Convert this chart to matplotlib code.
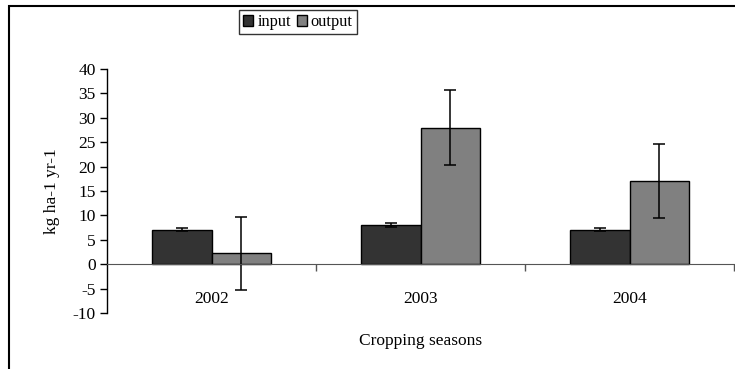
import matplotlib.pyplot as plt
import numpy as np
from matplotlib.patches import Rectangle

plt.rcParams['font.family'] = ['Liberation Serif', 'DejaVu Serif']
plt.rcParams['axes.unicode_minus'] = False

# Nutrient balance per cropping season (kg ha-1 yr-1)
seasons = ['2002', '2003', '2004']
input_vals = [7.1, 8.1, 7.1]
input_err = [0.3, 0.4, 0.3]
output_vals = [2.2, 28.0, 17.0]
output_err = [7.5, 7.6, 7.6]

fs = 12.5

fig = plt.figure(figsize=(7.35, 3.69), dpi=100)
ax = fig.add_axes([107 / 735, 1 - 313 / 369, 627 / 735, 244 / 369])

# outer chart border (only left and top edges are inside the image)
fig.patches.append(Rectangle((9 / 735, -0.5), 2.0, (1 - 6 / 369) + 0.5,
                             transform=fig.transFigure, fill=False,
                             edgecolor='black', linewidth=1.5, zorder=0))

x = np.arange(len(seasons))
w = 0.287
err_kw = dict(ecolor='black', elinewidth=1.1, capsize=4.5, capthick=1.1)
ax.bar(x - w / 2, input_vals, w, yerr=input_err, color='#333333',
       edgecolor='black', linewidth=1, label='input', error_kw=err_kw)
ax.bar(x + w / 2, output_vals, w, yerr=output_err, color='#808080',
       edgecolor='black', linewidth=1, label='output', error_kw=err_kw)

ax.set_xlim(-0.5, len(seasons) - 0.5)
ax.set_ylim(-10, 40)
ax.set_yticks(np.arange(-10, 41, 5))
ax.tick_params(axis='y', direction='out', length=5, width=1, labelsize=fs, pad=3)

ax.spines['top'].set_visible(False)
ax.spines['right'].set_visible(False)
ax.spines['bottom'].set_position(('data', 0))
ax.spines['bottom'].set_color('#555555')
ax.spines['left'].set_linewidth(1)

ax.set_xticks(x)
ax.set_xticklabels(seasons)
ax.set_xticks(np.arange(-0.5, len(seasons), 1.0)[1:], minor=True)
ax.tick_params(axis='x', which='major', length=0, labelsize=fs, pad=19)
ax.tick_params(axis='x', which='minor', length=5, width=1, color='#555555',
               direction='out')

ax.set_ylabel('kg ha-1 yr-1', fontsize=fs, labelpad=9)
ax.text(0.5, -0.115, 'Cropping seasons', transform=ax.transAxes,
        ha='center', va='center', fontsize=fs)

fig.legend(loc='upper center', bbox_to_anchor=(298 / 735, 1 - 10 / 369),
           ncol=2, fontsize=11.8, frameon=True, fancybox=False,
           edgecolor='black', handlelength=0.6, handleheight=0.6,
           handletextpad=0.25, columnspacing=0.35, borderpad=0.25,
           borderaxespad=0)

fig.savefig('out.png', dpi=100)
